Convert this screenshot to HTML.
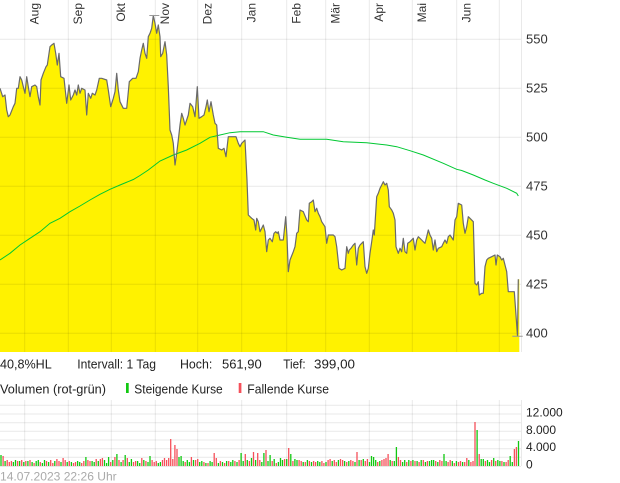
<!DOCTYPE html>
<html><head><meta charset="utf-8"><style>
html,body{margin:0;padding:0;background:#fff;}
svg{display:block;font-family:"Liberation Sans",sans-serif;}
</style></head><body>
<svg width="620" height="483" viewBox="0 0 620 483" xmlns="http://www.w3.org/2000/svg">
<rect width="620" height="483" fill="#fff"/>
<!-- price fill -->
<path fill="#fff200" stroke="none" d="M0 352 L0 88.3 L2.7 96.7 L5 95 L6.7 110 L8.3 116.7 L10 115 L13.3 106.7 L15 103.3 L16.7 88.3 L18.3 88.3 L20 76.7 L21.7 80 L23.3 86.7 L25 93.3 L26.7 76.7 L28.3 86.7 L30 96.7 L31.7 86.7 L35 85 L36.7 86.7 L38.3 96.7 L40 105 L41 80 L43.3 73.3 L46 66.7 L47.3 65 L50 46.7 L51.7 45 L54 43.3 L55.7 53.3 L57.3 65 L59 53.3 L60.7 76.7 L64 78.3 L66.7 103.3 L69 85 L70.7 100 L73.3 95 L75 90 L76.7 95 L78.3 85 L80 93.3 L81.7 88.3 L85 90 L86.7 115 L88.3 93.3 L90.7 98.3 L92.3 93.3 L95 95 L96.7 90 L99.3 78.3 L101.7 78.3 L106.7 80 L108.3 90 L110.7 106.7 L113.3 98.3 L115 91.7 L116.7 73.3 L118.3 90 L120 101.7 L123.3 108.3 L126.7 108.3 L129.3 81.7 L132.7 78.3 L136 78.3 L138.3 71.7 L140 58.3 L141.7 50 L143.3 43.3 L145 53.3 L146.7 58.3 L148.3 36.7 L150 33.3 L151.7 28.3 L153.3 15.5 L155 23.3 L156.7 33.3 L158.3 25 L160 36.7 L160.7 56.7 L162.7 53.3 L165 41.7 L166.7 55 L168.3 86.7 L170 130 L171.7 135 L173.3 143.3 L175 165 L176.7 153.3 L178.3 140 L180 125 L181.7 113.3 L183.3 118.3 L185 125 L188.3 115 L190 103.3 L192.7 106.7 L195 116.7 L197.3 86.7 L199 118.3 L201.7 116.7 L204 115 L206 106.7 L207.3 100 L209 111.7 L211 101.7 L213.3 115 L215 123.3 L216.7 125 L218.3 148.3 L221.7 150 L224 148.3 L226 156.7 L228.3 136.7 L230 136.7 L233.3 136.7 L236 136.7 L238.3 143.3 L240 146.7 L241.7 143.3 L245 140 L246 160 L247 180 L248.3 215 L251.7 218.3 L254 220 L255.7 230 L256.7 218.3 L258.3 221.7 L260 231.7 L261.7 228.3 L263.3 225 L265 231.7 L266.7 251.7 L268.3 240 L270 238.3 L272.3 241.7 L274 233.3 L275.7 231.7 L277.3 233.3 L278.3 231.7 L280 240 L283.3 240 L285.7 216.7 L287 236.7 L288.3 271.7 L290 260 L293.3 251.7 L295 246.7 L296.7 233.3 L298.3 231.7 L300 210 L303.3 211.7 L306.7 220 L308.3 221.7 L309.3 203.3 L311.7 201.7 L313.3 200 L315 211.7 L316.7 208.3 L318.3 213.3 L320 216.7 L321.7 221.7 L325 226.7 L326.7 243.3 L328.3 235 L333.3 235 L335 236.7 L336.7 246.7 L339 268.3 L341.7 270 L345 268.3 L346.7 246.7 L348.3 253.3 L349.3 250 L351 248.3 L353.3 245 L355 243.3 L356.7 265 L358.3 248.3 L360 245 L361.7 243.3 L363.3 241.7 L365 266.7 L366.7 273.3 L368.3 268.3 L370 253.3 L371.7 241.7 L373.3 230 L374.3 235 L376.7 196.7 L378.3 193.3 L380 188.3 L381.7 185 L383.3 181.7 L385 185 L386.7 183.3 L388.3 190 L389.3 206.7 L391.7 210 L393.3 213.3 L395 220 L396 246.7 L398.3 253.3 L400 248.3 L401.7 251.7 L403.3 238.3 L405 251.7 L406.7 253.3 L407.7 243.3 L410 241.7 L413.3 238.3 L415 250 L416.7 240 L418.3 236.7 L421.7 240 L423.3 241.7 L425 243.3 L426.7 236.7 L428.3 230 L430 235 L431.7 238.3 L433.3 250 L435 240 L436.7 251.7 L438.3 248.3 L441.7 246.7 L443.3 243.3 L445 240 L446.7 243.3 L448.3 236.7 L450 235 L453.3 240 L455 220 L456.7 216.7 L458.3 203.3 L461.7 205 L463.3 223.3 L465 233.3 L466.7 226.7 L468.3 216.7 L470 218.3 L473.3 221.7 L475 283.3 L476.7 285 L478.3 281.7 L479.3 295 L481.7 293.3 L483.3 293.3 L485 266.7 L486.7 260 L488.3 258.3 L491.7 256.7 L495 255 L496 265 L497.3 255 L500 256.7 L501.7 260 L503.3 258.3 L505 265 L506.7 271.7 L508.3 291.7 L514.3 291.7 L517.5 336 L518.3 279.3 L519.3 279.3 L519.3 352 Z"/>
<!-- price grid -->
<g stroke="rgba(0,0,0,0.085)" stroke-width="1" fill="none">
<path d="M0 39.3H521M0 88.3H521M0 137.3H521M0 186.3H521M0 235.3H521M0 284.3H521M0 333.3H521"/>
<path d="M24.7 0V352M68.3 0V352M111.3 0V352M155.3 0V352M197.7 0V352M241.7 0V352M286.7 0V352M325.7 0V352M369.3 0V352M412.3 0V352M456.7 0V352M499.3 0V352M521.5 0V352"/>
</g>
<!-- moving average -->
<polyline fill="none" stroke="#00c832" stroke-width="1" points="0,260 10,253.3 20,245 30,238.3 40,231.7 50,223.3 60,218.3 70,211.7 80,206 90,200 100,194.3 110,189.3 120,185 133.3,179.5 140,175.5 148.3,170 160,161 173.3,155 186.7,150 200,143.3 210,137.3 220,135 230,132.7 240,131.7 263.3,131.7 273.3,135 286.7,137.3 300,139.3 326.7,139.3 343.3,141.7 366.7,142.7 386.7,145 396.7,146.7 410,150.7 423.3,155 443.3,163.3 456.7,169.3 461.7,170.5 473.3,175 485,180 493.3,183.3 506.7,188.3 516.7,193.3 518.3,196"/>
<!-- price line -->
<path fill="none" stroke="#6a6a6a" stroke-width="1.2" stroke-linejoin="round" d="M0 88.3 L2.7 96.7 L5 95 L6.7 110 L8.3 116.7 L10 115 L13.3 106.7 L15 103.3 L16.7 88.3 L18.3 88.3 L20 76.7 L21.7 80 L23.3 86.7 L25 93.3 L26.7 76.7 L28.3 86.7 L30 96.7 L31.7 86.7 L35 85 L36.7 86.7 L38.3 96.7 L40 105 L41 80 L43.3 73.3 L46 66.7 L47.3 65 L50 46.7 L51.7 45 L54 43.3 L55.7 53.3 L57.3 65 L59 53.3 L60.7 76.7 L64 78.3 L66.7 103.3 L69 85 L70.7 100 L73.3 95 L75 90 L76.7 95 L78.3 85 L80 93.3 L81.7 88.3 L85 90 L86.7 115 L88.3 93.3 L90.7 98.3 L92.3 93.3 L95 95 L96.7 90 L99.3 78.3 L101.7 78.3 L106.7 80 L108.3 90 L110.7 106.7 L113.3 98.3 L115 91.7 L116.7 73.3 L118.3 90 L120 101.7 L123.3 108.3 L126.7 108.3 L129.3 81.7 L132.7 78.3 L136 78.3 L138.3 71.7 L140 58.3 L141.7 50 L143.3 43.3 L145 53.3 L146.7 58.3 L148.3 36.7 L150 33.3 L151.7 28.3 L153.3 15.5 L155 23.3 L156.7 33.3 L158.3 25 L160 36.7 L160.7 56.7 L162.7 53.3 L165 41.7 L166.7 55 L168.3 86.7 L170 130 L171.7 135 L173.3 143.3 L175 165 L176.7 153.3 L178.3 140 L180 125 L181.7 113.3 L183.3 118.3 L185 125 L188.3 115 L190 103.3 L192.7 106.7 L195 116.7 L197.3 86.7 L199 118.3 L201.7 116.7 L204 115 L206 106.7 L207.3 100 L209 111.7 L211 101.7 L213.3 115 L215 123.3 L216.7 125 L218.3 148.3 L221.7 150 L224 148.3 L226 156.7 L228.3 136.7 L230 136.7 L233.3 136.7 L236 136.7 L238.3 143.3 L240 146.7 L241.7 143.3 L245 140 L246 160 L247 180 L248.3 215 L251.7 218.3 L254 220 L255.7 230 L256.7 218.3 L258.3 221.7 L260 231.7 L261.7 228.3 L263.3 225 L265 231.7 L266.7 251.7 L268.3 240 L270 238.3 L272.3 241.7 L274 233.3 L275.7 231.7 L277.3 233.3 L278.3 231.7 L280 240 L283.3 240 L285.7 216.7 L287 236.7 L288.3 271.7 L290 260 L293.3 251.7 L295 246.7 L296.7 233.3 L298.3 231.7 L300 210 L303.3 211.7 L306.7 220 L308.3 221.7 L309.3 203.3 L311.7 201.7 L313.3 200 L315 211.7 L316.7 208.3 L318.3 213.3 L320 216.7 L321.7 221.7 L325 226.7 L326.7 243.3 L328.3 235 L333.3 235 L335 236.7 L336.7 246.7 L339 268.3 L341.7 270 L345 268.3 L346.7 246.7 L348.3 253.3 L349.3 250 L351 248.3 L353.3 245 L355 243.3 L356.7 265 L358.3 248.3 L360 245 L361.7 243.3 L363.3 241.7 L365 266.7 L366.7 273.3 L368.3 268.3 L370 253.3 L371.7 241.7 L373.3 230 L374.3 235 L376.7 196.7 L378.3 193.3 L380 188.3 L381.7 185 L383.3 181.7 L385 185 L386.7 183.3 L388.3 190 L389.3 206.7 L391.7 210 L393.3 213.3 L395 220 L396 246.7 L398.3 253.3 L400 248.3 L401.7 251.7 L403.3 238.3 L405 251.7 L406.7 253.3 L407.7 243.3 L410 241.7 L413.3 238.3 L415 250 L416.7 240 L418.3 236.7 L421.7 240 L423.3 241.7 L425 243.3 L426.7 236.7 L428.3 230 L430 235 L431.7 238.3 L433.3 250 L435 240 L436.7 251.7 L438.3 248.3 L441.7 246.7 L443.3 243.3 L445 240 L446.7 243.3 L448.3 236.7 L450 235 L453.3 240 L455 220 L456.7 216.7 L458.3 203.3 L461.7 205 L463.3 223.3 L465 233.3 L466.7 226.7 L468.3 216.7 L470 218.3 L473.3 221.7 L475 283.3 L476.7 285 L478.3 281.7 L479.3 295 L481.7 293.3 L483.3 293.3 L485 266.7 L486.7 260 L488.3 258.3 L491.7 256.7 L495 255 L496 265 L497.3 255 L500 256.7 L501.7 260 L503.3 258.3 L505 265 L506.7 271.7 L508.3 291.7 L514.3 291.7 L517.5 336 L518.3 279.3"/>
<!-- high/low markers -->
<path stroke="#999" stroke-width="1" d="M149.3 15.5H159.3M512.3 336.3H522.7"/>
<!-- month labels -->
<g font-size="12" fill="#333" text-anchor="end">
<text transform="translate(38.3,3) rotate(-90)">Aug</text>
<text transform="translate(81.9,3) rotate(-90)">Sep</text>
<text transform="translate(124.9,3) rotate(-90)">Okt</text>
<text transform="translate(168.9,3) rotate(-90)">Nov</text>
<text transform="translate(211.3,3) rotate(-90)">Dez</text>
<text transform="translate(255.3,3) rotate(-90)">Jan</text>
<text transform="translate(300.3,3) rotate(-90)">Feb</text>
<text transform="translate(339.3,3) rotate(-90)">Mär</text>
<text transform="translate(382.9,3) rotate(-90)">Apr</text>
<text transform="translate(425.9,3) rotate(-90)">Mai</text>
<text transform="translate(470.3,3) rotate(-90)">Jun</text>
</g>
<!-- price y labels -->
<g font-size="13" fill="#333">
<text x="526" y="43.3">550</text>
<text x="526" y="92.3">525</text>
<text x="526" y="141.3">500</text>
<text x="526" y="190.3">475</text>
<text x="526" y="239.3">450</text>
<text x="526" y="288.3">425</text>
<text x="526" y="337.3">400</text>
</g>
<!-- info text -->
<g font-size="13" fill="#222">
<text x="0" y="368.3" textLength="51.7" lengthAdjust="spacingAndGlyphs">40,8%HL</text>
<text x="77.3" y="368.3" textLength="78.7" lengthAdjust="spacingAndGlyphs">Intervall: 1 Tag</text>
<text x="180" y="368.3" textLength="32.3" lengthAdjust="spacingAndGlyphs">Hoch:</text>
<text x="222" y="368.3" textLength="39.7" lengthAdjust="spacingAndGlyphs">561,90</text>
<text x="283.3" y="368.3" textLength="22.3" lengthAdjust="spacingAndGlyphs">Tief:</text>
<text x="314" y="368.3" textLength="41" lengthAdjust="spacingAndGlyphs">399,00</text>
<text x="0" y="393.3" textLength="106" lengthAdjust="spacingAndGlyphs">Volumen (rot-grün)</text>
<text x="134.3" y="393.3" textLength="88.4" lengthAdjust="spacingAndGlyphs">Steigende Kurse</text>
<text x="247.3" y="393.3" textLength="81.7" lengthAdjust="spacingAndGlyphs">Fallende Kurse</text>
</g>
<rect x="126" y="383" width="2.7" height="10" fill="#11c811"/>
<rect x="238.7" y="383" width="2.7" height="10" fill="#f5505a"/>
<!-- volume grid -->
<g stroke="rgba(0,0,0,0.085)" stroke-width="1" fill="none">
<path d="M0 405.3H521M0 414H521M0 422.7H521M0 431.3H521M0 440H521M0 448.7H521M0 457.3H521M0 466.5H521"/>
<path d="M24.7 400V466M68.3 400V466M111.3 400V466M155.3 400V466M197.7 400V466M241.7 400V466M286.7 400V466M325.7 400V466M369.3 400V466M412.3 400V466M456.7 400V466M499.3 400V466M521.5 400V466"/>
</g>
<!-- volume bars green -->
<path fill="none" stroke="#11c811" stroke-width="1.3" d="M1 466v-11M5.1 466v-5M13.4 466v-4M15.5 466v-6M19.6 466v-5M23.8 466v-4M27.9 466v-5M32.1 466v-4M36.2 466v-5M38.3 466v-6M42.4 466v-3M44.5 466v-6M48.6 466v-4M54.8 466v-5M61 466v-4M67.2 466v-4M71.4 466v-4M77.6 466v-5M79.7 466v-4M85.9 466v-9M92.1 466v-5M94.2 466v-4M98.3 466v-5M104.5 466v-6M106.6 466v-3M108.6 466v-9M112.8 466v-6M116.9 466v-12M121.1 466v-4M125.2 466v-11M129.3 466v-4M131.4 466v-7M137.6 466v-5M139.7 466v-3M143.8 466v-6M148 466v-4M150 466v-10M158.3 466v-3M160.4 466v-4M179 466v-9M181.1 466v-10M183.2 466v-5M187.3 466v-6M189.4 466v-4M193.5 466v-6M199.7 466v-4M201.8 466v-5M205.9 466v-3M210.1 466v-5M212.1 466v-4M218.4 466v-3M222.5 466v-4M226.6 466v-5M230.8 466v-4M232.8 466v-6M237 466v-4M241.1 466v-13M243.2 466v-5M247.3 466v-6M251.5 466v-8M255.6 466v-6M261.8 466v-4M263.9 466v-13M268 466v-5M270.1 466v-11M274.2 466v-7M278.4 466v-4M280.5 466v-8M282.5 466v-6M286.7 466v-7M290.8 466v-12M294.9 466v-7M297 466v-6M303.2 466v-4M307.4 466v-6M311.5 466v-4M317.7 466v-5M319.8 466v-4M326 466v-4M332.2 466v-5M338.4 466v-6M344.6 466v-5M348.8 466v-5M355 466v-4M359.1 466v-6M363.3 466v-7M369.5 466v-4M371.5 466v-10M373.6 466v-9M375.7 466v-6M379.8 466v-5M390.2 466v-6M394.3 466v-5M396.4 466v-19M402.6 466v-4M404.7 466v-6M408.8 466v-6M412.9 466v-6M417.1 466v-5M421.2 466v-6M425.4 466v-4M429.5 466v-5M431.6 466v-6M433.6 466v-6M437.8 466v-4M444 466v-12M446.1 466v-5M452.3 466v-5M456.4 466v-5M462.6 466v-4M468.8 466v-6M477.1 466v-36M481.2 466v-7M483.3 466v-7M487.5 466v-6M489.5 466v-4M493.7 466v-8M497.8 466v-6M499.9 466v-5M504 466v-4M510.2 466v-10M512.3 466v-4M518.5 466v-25"/>
<!-- volume bars red -->
<path fill="none" stroke="#f5505a" stroke-width="1.3" d="M3.1 466v-10M7.2 466v-6M9.3 466v-4M11.4 466v-5M17.6 466v-5M21.7 466v-6M25.8 466v-5M30 466v-6M34.1 466v-3M40.3 466v-4M46.5 466v-5M50.7 466v-6M52.8 466v-3M56.9 466v-7M59 466v-5M63.1 466v-8M65.2 466v-6M69.3 466v-5M73.5 466v-3M75.5 466v-4M81.7 466v-3M83.8 466v-5M87.9 466v-6M90 466v-5M96.2 466v-7M100.4 466v-7M102.4 466v-8M110.7 466v-4M114.9 466v-9M119 466v-6M123.1 466v-6M127.3 466v-8M133.5 466v-4M135.6 466v-5M141.8 466v-8M145.9 466v-5M152.1 466v-6M154.2 466v-4M156.3 466v-5M162.5 466v-6M164.5 466v-8M166.6 466v-6M168.7 466v-8M170.7 466v-27M172.8 466v-7M174.9 466v-21M177 466v-17M185.2 466v-4M191.4 466v-9M195.6 466v-6M197.7 466v-7M203.9 466v-4M208 466v-3M214.2 466v-13M216.3 466v-8M220.4 466v-5M224.6 466v-3M228.7 466v-5M234.9 466v-5M239.1 466v-6M245.3 466v-12M249.4 466v-5M253.5 466v-14M257.7 466v-13M259.8 466v-6M266 466v-16M272.2 466v-5M276.3 466v-3M284.6 466v-7M288.7 466v-18M292.9 466v-5M299.1 466v-6M301.2 466v-5M305.3 466v-4M309.4 466v-5M313.6 466v-5M315.6 466v-4M321.9 466v-5M323.9 466v-3M328.1 466v-6M330.1 466v-7M334.3 466v-6M336.3 466v-4M340.5 466v-7M342.6 466v-6M346.7 466v-4M350.8 466v-6M352.9 466v-5M357 466v-14M361.2 466v-6M365.3 466v-5M367.4 466v-7M377.7 466v-4M381.9 466v-6M384 466v-7M386 466v-8M388.1 466v-12M392.2 466v-5M398.4 466v-9M400.5 466v-6M406.7 466v-4M410.9 466v-5M415 466v-5M419.1 466v-4M423.3 466v-6M427.4 466v-5M435.7 466v-5M439.8 466v-6M441.9 466v-5M448.1 466v-4M450.2 466v-6M454.3 466v-3M458.5 466v-4M460.5 466v-5M464.7 466v-4M466.8 466v-8M470.9 466v-4M473 466v-5M475 466v-44M479.2 466v-12M485.4 466v-5M491.6 466v-6M495.7 466v-5M501.9 466v-5M506.1 466v-4M508.2 466v-6M514.4 466v-17M516.4 466v-19"/>
<!-- volume y labels -->
<g font-size="12" fill="#222">
<text x="526" y="416.7">12.000</text>
<text x="526" y="434">8.000</text>
<text x="526" y="451">4.000</text>
<text x="526" y="468.3">0</text>
</g>
<text x="0" y="480.7" font-size="12" fill="#aaa" textLength="116.7" lengthAdjust="spacingAndGlyphs">14.07.2023 22:26 Uhr</text>
</svg>
</body></html>
